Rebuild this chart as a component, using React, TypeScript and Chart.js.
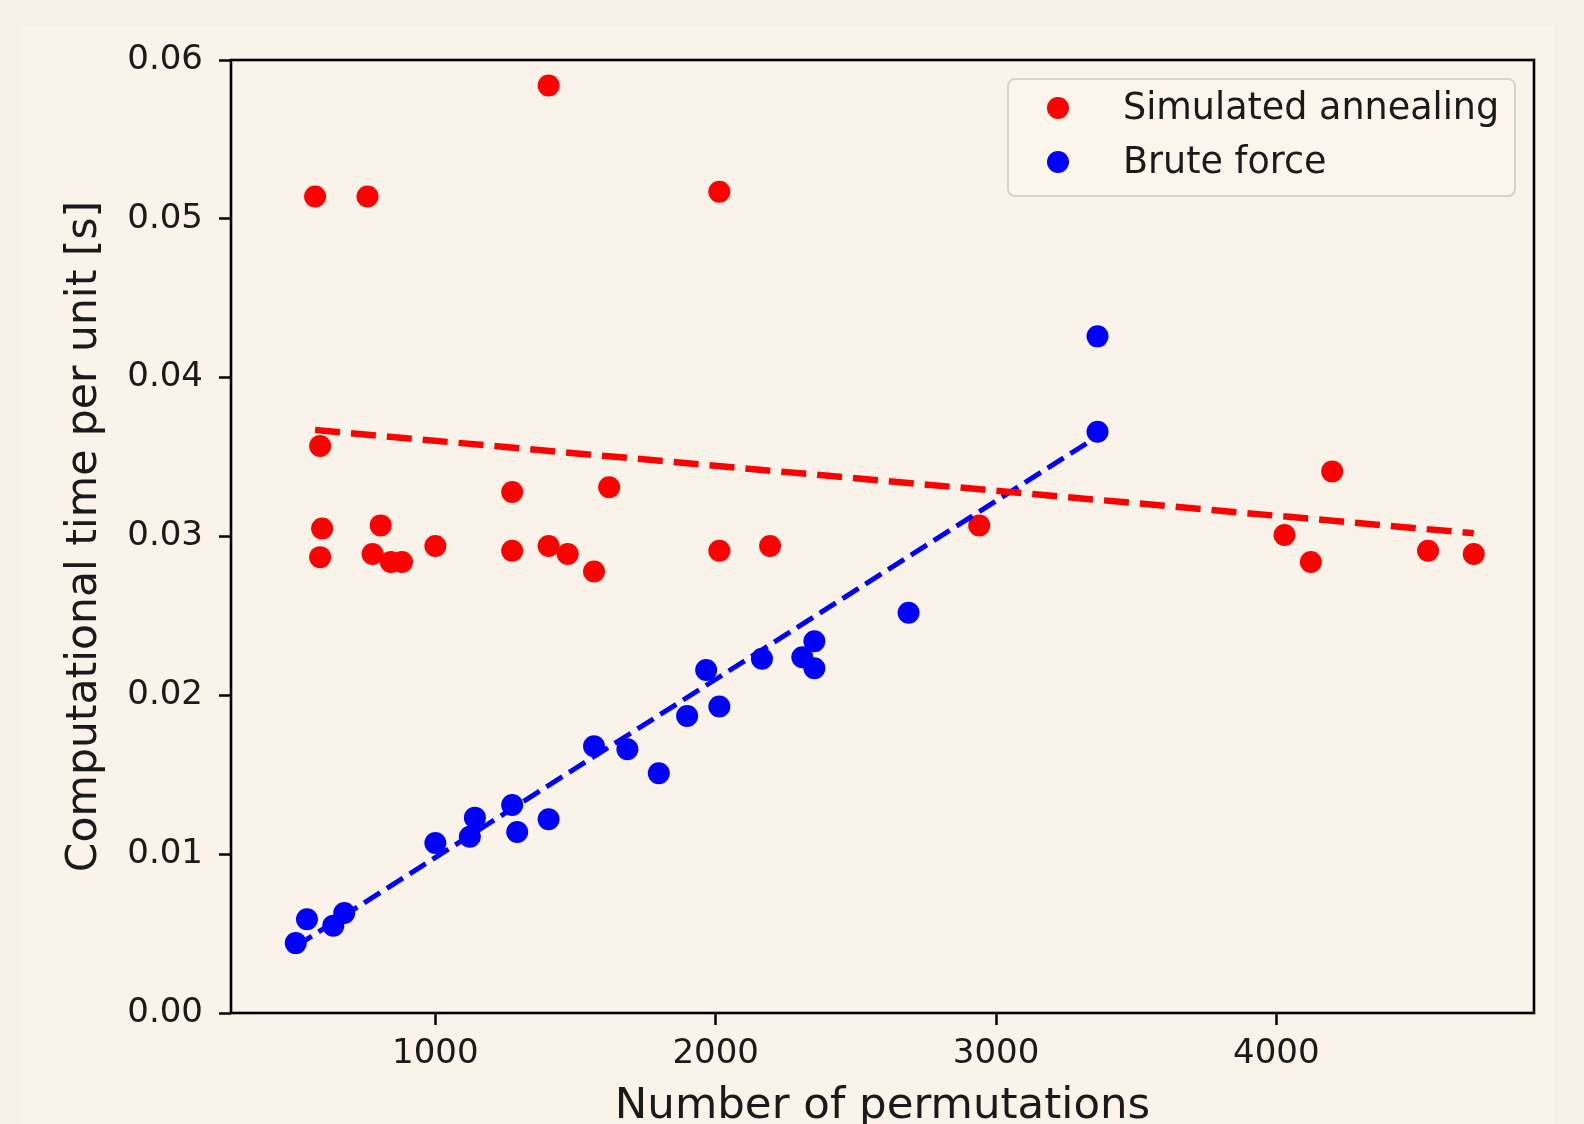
import React, { useEffect, useRef } from 'react';
import { Chart, registerables } from 'chart.js';

Chart.register(...registerables);

// Simulated annealing: number of permutations vs computational time per unit [s]
const saX = [571, 758, 1404, 2013, 589, 596, 589, 805, 776, 841, 881, 1000, 1274, 1274, 1404, 1472, 1566, 1620, 2013, 2194, 2940, 4029, 4123, 4199, 4541, 4704];
const saY = [0.0514, 0.0514, 0.0584, 0.0517, 0.0357, 0.0305, 0.0287, 0.0307, 0.0289, 0.0284, 0.0284, 0.0294, 0.0328, 0.0291, 0.0294, 0.0289, 0.0278, 0.0331, 0.0291, 0.0294, 0.0307, 0.0301, 0.0284, 0.0341, 0.0291, 0.0289];

// Brute force
const bfX = [502, 542, 636, 675, 1000, 1123, 1141, 1274, 1292, 1404, 1566, 1685, 1797, 1898, 1966, 2013, 2165, 2309, 2352, 2352, 2688, 3362, 3362];
const bfY = [0.0044, 0.0059, 0.0055, 0.0063, 0.0107, 0.0111, 0.0123, 0.0131, 0.0114, 0.0122, 0.0168, 0.0166, 0.0151, 0.0187, 0.0216, 0.0193, 0.0223, 0.0224, 0.0234, 0.0217, 0.0252, 0.0426, 0.0366];

// Trend lines (end points)
const saTrendX = [571, 4704];
const saTrendY = [0.0367, 0.0302];
const bfTrendX = [502, 3362];
const bfTrendY = [0.0042, 0.0363];

// Axes
const xTicks = [1000, 2000, 3000, 4000];
const yTicks = [0, 0.01, 0.02, 0.03, 0.04, 0.05, 0.06];
const xRange = [271, 4919];
const yRange = [0, 0.06];

const seriesNames = ['Simulated annealing', 'Brute force'];
const xTitle = 'Number of permutations';
const yTitle = 'Computational time per unit [s]';

const FONT = "'DejaVu Sans', 'Liberation Sans', sans-serif";
const W = 1584;
const H = 1150;

const zip = (xs: number[], ys: number[]) => xs.map((x, i) => ({ x, y: ys[i] }));

const framePlugin = {
  id: 'frame',
  afterDatasetsDraw(chart: any) {
    const { ctx, chartArea: a } = chart;
    ctx.save();
    ctx.strokeStyle = '#000';
    ctx.lineWidth = 2.6;
    ctx.strokeRect(a.left, a.top, a.right - a.left, a.bottom - a.top);
    ctx.restore();
  },
};

const legendPlugin = {
  id: 'customLegend',
  afterDraw(chart: any) {
    const ctx = chart.ctx;
    const items = chart.data.datasets.filter((d: any) => d.isLegend);
    const bx = 1008, by = 79, bw = 507, bh = 117, r = 7;
    ctx.save();
    ctx.beginPath();
    ctx.moveTo(bx + r, by);
    ctx.arcTo(bx + bw, by, bx + bw, by + bh, r);
    ctx.arcTo(bx + bw, by + bh, bx, by + bh, r);
    ctx.arcTo(bx, by + bh, bx, by, r);
    ctx.arcTo(bx, by, bx + bw, by, r);
    ctx.closePath();
    ctx.fillStyle = 'rgba(250,244,235,0.85)';
    ctx.fill();
    ctx.strokeStyle = '#d6d3ce';
    ctx.lineWidth = 2;
    ctx.stroke();
    items.forEach((d: any, i: number) => {
      const cy = 108 + i * 54;
      ctx.beginPath();
      ctx.arc(1058, cy, 11, 0, Math.PI * 2);
      ctx.fillStyle = d.backgroundColor;
      ctx.fill();
      ctx.fillStyle = '#1a1a1a';
      ctx.font = `36.5px ${FONT}`;
      ctx.textBaseline = 'alphabetic';
      ctx.textAlign = 'left';
      ctx.fillText(d.label, 1123, cy + 11.3);
    });
    ctx.restore();
  },
};

export default function App() {
  const ref = useRef<HTMLCanvasElement | null>(null);

  useEffect(() => {
    if (!ref.current) return;
    const chart = new Chart(ref.current, {
      type: 'scatter',
      data: {
        datasets: [
          {
            label: 'sa-trend',
            data: zip(saTrendX, saTrendY),
            showLine: true,
            borderColor: '#ff0000',
            borderWidth: 6.5,
            borderDash: [25, 11],
            pointRadius: 0,
            order: 0,
          } as any,
          {
            label: 'bf-trend',
            data: zip(bfTrendX, bfTrendY),
            showLine: true,
            borderColor: '#0000ff',
            borderWidth: 5,
            borderDash: [19, 8],
            pointRadius: 0,
            order: 0,
          } as any,
          {
            label: seriesNames[0],
            isLegend: true,
            data: zip(saX, saY),
            backgroundColor: '#ff0000',
            borderWidth: 0,
            pointRadius: 11,
            order: 1,
          } as any,
          {
            label: seriesNames[1],
            isLegend: true,
            data: zip(bfX, bfY),
            backgroundColor: '#0000ff',
            borderWidth: 0,
            pointRadius: 11,
            order: 1,
          } as any,
        ],
      },
      options: {
        responsive: false,
        animation: false,
        devicePixelRatio: 1,
        layout: { padding: { top: 60, right: 50, left: 0, bottom: 0 } },
        plugins: {
          legend: { display: false },
          tooltip: { enabled: false },
        },
        scales: {
          x: {
            type: 'linear',
            min: xRange[0],
            max: xRange[1],
            afterBuildTicks: (s: any) => {
              s.ticks = xTicks.map((v) => ({ value: v }));
            },
            afterFit: (s: any) => {
              s.height = H - 1013;
            },
            grid: {
              drawOnChartArea: false,
              drawTicks: true,
              tickLength: 12,
              tickWidth: 2.5,
              tickColor: '#000',
            },
            border: { display: false },
            ticks: {
              color: '#1a1a1a',
              font: { family: FONT, size: 34 },
              padding: 9,
              maxRotation: 0,
              autoSkip: false,
              callback: (v: any) => String(v),
            },
            title: {
              display: true,
              text: xTitle,
              color: '#1a1a1a',
              font: { family: FONT, size: 43.5 },
              padding: { top: 0, bottom: 17 },
            },
          },
          y: {
            type: 'linear',
            min: yRange[0],
            max: yRange[1],
            afterBuildTicks: (s: any) => {
              s.ticks = yTicks.map((v) => ({ value: v }));
            },
            afterFit: (s: any) => {
              s.width = 231;
            },
            grid: {
              drawOnChartArea: false,
              drawTicks: true,
              tickLength: 12,
              tickWidth: 2.5,
              tickColor: '#000',
            },
            border: { display: false },
            ticks: {
              color: '#1a1a1a',
              font: { family: FONT, size: 34 },
              padding: 16,
              autoSkip: false,
              callback: (v: any) => Number(v).toFixed(2),
            },
            title: {
              display: true,
              text: yTitle,
              color: '#1a1a1a',
              font: { family: FONT, size: 42.5 },
              padding: { top: 59, bottom: 0 },
            },
          },
        },
      } as any,
      plugins: [framePlugin, legendPlugin],
    });
    return () => chart.destroy();
  }, []);

  return (
    <div
      style={{
        position: 'fixed',
        left: 0,
        top: 0,
        width: W,
        height: 1124,
        overflow: 'hidden',
        background: '#f7f0e6',
      }}
    >
      <div
        style={{
          position: 'absolute',
          left: 20,
          top: 26,
          width: 1534,
          height: 1200,
          background: '#faf3ea',
        }}
      />
      <canvas
        ref={ref}
        width={W}
        height={H}
        style={{ position: 'absolute', left: 0, top: 0, width: W, height: H }}
      />
    </div>
  );
}
